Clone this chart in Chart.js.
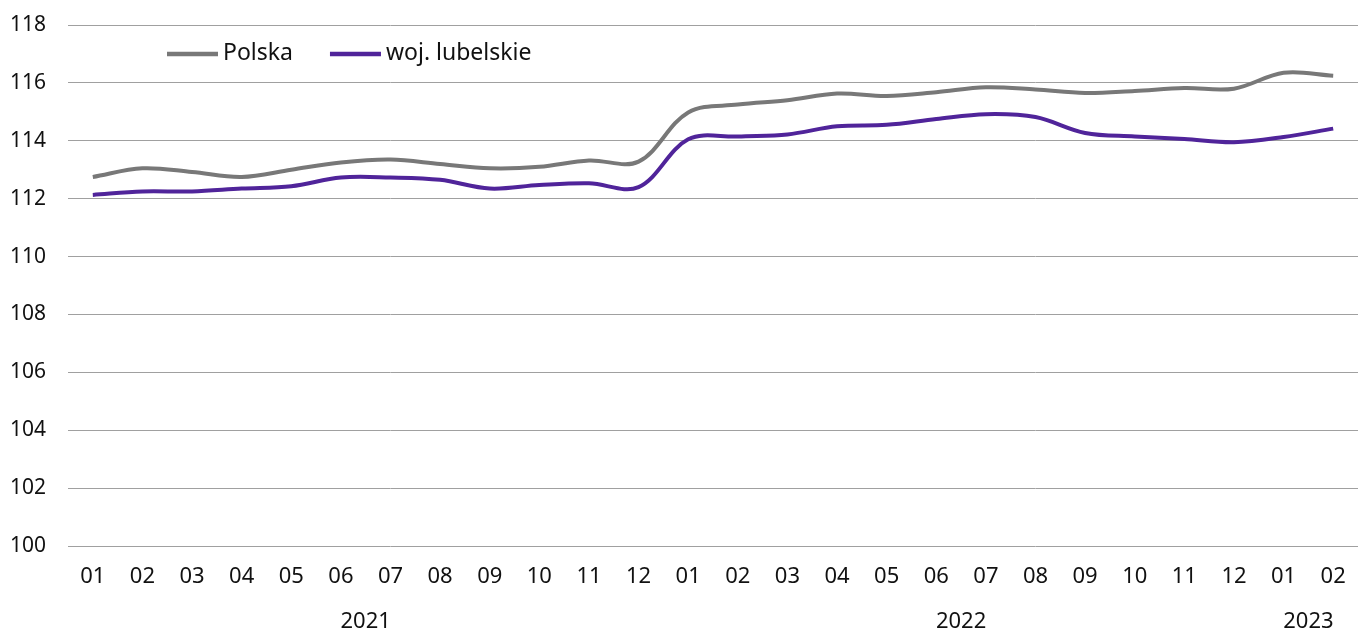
<!DOCTYPE html>
<html>
<head>
<meta charset="utf-8">
<script src="https://cdn.jsdelivr.net/npm/chart.js@4"></script>
<style>
    body { margin: 0; background: #fff; }
    #wrap { width: 1368px; height: 631px; }
</style>
</head>
<body>
<div id="wrap"><canvas id="chart"></canvas></div>
<script>
// Data
const months = ['01', '02', '03', '04', '05', '06', '07', '08', '09', '10', '11', '12',
                '01', '02', '03', '04', '05', '06', '07', '08', '09', '10', '11', '12',
                '01', '02'];
const polska = [112.75, 113.05, 112.92, 112.75, 113.0, 113.25, 113.35, 113.2, 113.05, 113.1, 113.32, 113.28,
                114.98, 115.25, 115.4, 115.63, 115.55, 115.68, 115.85, 115.77, 115.65, 115.72, 115.82, 115.8,
                116.35, 116.25];
const lubelskie = [112.13, 112.25, 112.25, 112.35, 112.43, 112.73, 112.73, 112.65, 112.35, 112.47, 112.53, 112.4,
                   114.05, 114.15, 114.22, 114.5, 114.55, 114.75, 114.92, 114.82, 114.27, 114.15, 114.06, 113.95,
                   114.13, 114.42];
const years = ['2021', '2022', '2023'];
const yearCenters = [5.5, 17.5, 24.5];
const yTicks = [100, 102, 104, 106, 108, 110, 112, 114, 116, 118];

const textColor = '#111111';
const fontFamily = '"Noto Sans", sans-serif';

// legend drawn inside the plot, top-left
const innerLegend = {
    id: 'innerLegend',
    afterDraw(chart) {
        const c = chart.ctx;
        const area = chart.chartArea;
        let x = area.left + 99;
        const y = 54;
        c.save();
        c.font = '23px ' + fontFamily;
        c.textBaseline = 'middle';
        chart.data.datasets.forEach(ds => {
            c.strokeStyle = ds.borderColor;
            c.lineWidth = 4.5;
            c.beginPath();
            c.moveTo(x, y);
            c.lineTo(x + 51, y);
            c.stroke();
            c.fillStyle = textColor;
            c.fillText(ds.label, x + 56, y - 1);
            x += 56 + c.measureText(ds.label).width + 37;
        });
        c.restore();
    }
};

const ctx = document.getElementById('chart').getContext('2d');
new Chart(ctx, {
    type: 'line',
    data: {
        labels: months,
        datasets: [{
            label: 'Polska',
            data: polska,
            borderColor: '#787878',
            borderWidth: 4,
            pointRadius: 0,
            tension: 0.35,
            fill: false
        }, {
            label: 'woj. lubelskie',
            data: lubelskie,
            borderColor: '#50249a',
            borderWidth: 4,
            pointRadius: 0,
            tension: 0.35,
            fill: false
        }]
    },
    options: {
        responsive: true,
        maintainAspectRatio: false,
        animation: false,
        layout: { padding: { top: 25, left: 10, right: 10, bottom: 0 } },
        plugins: {
            legend: { display: false },
            tooltip: { enabled: false }
        },
        scales: {
            x: {
                type: 'category',
                offset: true,
                weight: 0,
                grid: { display: false, drawTicks: false },
                border: { display: false },
                ticks: {
                    color: textColor,
                    font: { family: fontFamily, size: 22 },
                    padding: 18,
                    autoSkip: false,
                    maxRotation: 0
                },
                afterFit: (axis) => { axis.height = 52; }
            },
            years: {
                type: 'linear',
                position: 'bottom',
                weight: 1,
                min: -0.5,
                max: months.length - 0.5,
                grid: { display: false, drawTicks: false },
                border: { display: false },
                afterBuildTicks: (axis) => {
                    axis.ticks = yearCenters.map(v => ({ value: v }));
                },
                ticks: {
                    color: textColor,
                    font: { family: fontFamily, size: 22 },
                    padding: 11,
                    autoSkip: false,
                    maxRotation: 0,
                    callback: (value) => years[yearCenters.indexOf(value)]
                },
                afterFit: (axis) => { axis.height = 33; }
            },
            y: {
                min: 100,
                max: 118,
                afterBuildTicks: (axis) => {
                    axis.ticks = yTicks.map(v => ({ value: v }));
                },
                grid: { color: '#a0a0a0', lineWidth: 1, drawTicks: false },
                border: { display: false },
                ticks: {
                    color: textColor,
                    font: { family: fontFamily, size: 21 },
                    crossAlign: 'far',
                    padding: 0
                },
                afterFit: (axis) => { axis.width = 58; }
            }
        }
    },
    plugins: [innerLegend]
});
</script>
</body>
</html>
